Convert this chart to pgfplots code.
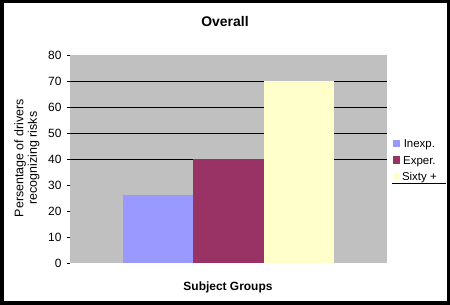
\documentclass[border=0pt]{standalone}
\usepackage{pgfplots}
\pgfplotsset{compat=1.18}
\usepackage{fontspec}
\setmainfont{Liberation Sans}
\definecolor{plotgray}{HTML}{C0C0C0}
\definecolor{inexp}{HTML}{9999FF}
\definecolor{exper}{HTML}{993366}
\definecolor{sixty}{HTML}{FFFFCC}
\begin{document}
\begin{tikzpicture}
\fill[white] (0bp,0bp) rectangle (450bp,305bp);
\begin{axis}[
  at={(70bp,42bp)}, anchor=south west,
  scale only axis, width=317bp, height=208bp,
  xmin=0, xmax=4.5, ymin=0, ymax=80,
  xtick=\empty,
  ytick={0,10,...,80},
  ytick pos=left, tick align=outside,
  major tick length=3bp,
  tick style={black, line width=0.8pt},
  axis line style={draw=none},
  axis background/.style={fill=plotgray},
  extra y ticks={40,50,60,70},
  extra y tick labels={},
  extra y tick style={grid=major, major grid style={black, line width=0.8pt}},
  yticklabel style={font=\fontsize{12}{13}\selectfont, xshift=-2bp},
  /pgf/number format/assume math mode=true,
  ybar, bar width=1,
  legend style={at={(1.015,0.49)}, anchor=west, draw=none, fill=white,
    font=\fontsize{11.5}{13}\selectfont, row sep=3bp,
    inner xsep=1bp, inner ysep=2bp},
  legend image code/.code={\draw[#1, draw=none] (0cm,-0.1cm) rectangle (0.25cm,0.17cm);},
]
\addplot[fill=inexp, draw=none, bar shift=0] coordinates {(1.25,26)};
\addplot[fill=exper, draw=none, bar shift=0] coordinates {(2.25,40)};
\addplot[fill=sixty, draw=none, bar shift=0] coordinates {(3.25,70)};
\legend{Inexp.,Exper.,Sixty +}
\end{axis}
\draw[black, line width=0.8pt] (392bp,122bp) -- (446bp,122bp);
\node[font=\fontsize{14}{16}\selectfont\bfseries] at (225bp,283bp) {Overall};
\node[font=\fontsize{12.5}{13.5}\selectfont, rotate=90, align=center] at (27bp,147bp) {Persentage of drivers\\recognizing risks};
\node[font=\fontsize{12}{14}\selectfont\bfseries] at (228bp,18bp) {Subject Groups};
\draw[black, line width=3.5bp] (1.75bp,1.75bp) rectangle (448.25bp,303.25bp);
\end{tikzpicture}
\end{document}
